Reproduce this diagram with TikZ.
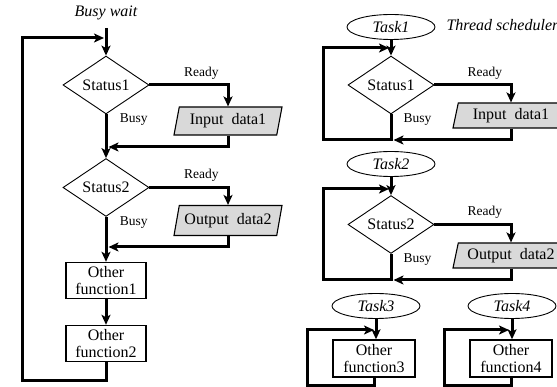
\documentclass[tikz,border=0pt]{standalone}
\usepackage{fontspec}
\setmainfont{Liberation Serif}
\usetikzlibrary{shapes.geometric,arrows.meta}
\definecolor{iogray}{RGB}{217,217,217}
\tikzset{
  decision/.style={diamond,draw,line width=0.9pt,minimum width=86pt,minimum height=50pt,inner sep=0pt,font=\fontsize{16}{17}\selectfont},
  iobox/.style={trapezium,trapezium left angle=70,trapezium right angle=110,trapezium stretches body,draw,line width=1.1pt,fill=iogray,inner sep=0pt,minimum width=108pt,minimum height=28pt,font=\fontsize{16}{17}\selectfont},
  funcbox/.style={rectangle,draw,line width=1.4pt,minimum width=80pt,minimum height=36pt,inner sep=0pt,align=center,font=\fontsize{16}{17}\selectfont},
  task/.style={ellipse,draw,line width=0.9pt,minimum width=88pt,minimum height=25pt,inner sep=0pt,font=\fontsize{16}{17}\selectfont\itshape},
  title/.style={font=\fontsize{16}{17}\selectfont\itshape},
  lbl/.style={font=\fontsize{13.5}{15}\selectfont},
  flow/.style={line width=3pt,-{Stealth[length=10pt,width=9pt,inset=2.5pt]}}
}
\begin{document}
\begin{tikzpicture}[x=1pt,y=-1pt]
  \useasboundingbox (0,0) rectangle (557,387);
  \clip (0,0) rectangle (557,387);

  % busy wait
  \node[title] (bw) at (106,13) {Busy wait};
  \node[decision] (s1) at (106,85) {Status1};
  \node[iobox] (in1) at (228,121) {Input~~data1};
  \node[decision] (s2) at (106,187.5) {Status2};
  \node[iobox,minimum height=30pt] (out2) at (228,220.5) {Output~~data2};
  \node[funcbox] (f1) at (106,280.5) {Other\\function1};
  \node[funcbox] (f2) at (106,343.5) {Other\\function2};
  \coordinate (t0) at (106,28);
  \coordinate (j0) at (104,38);
  \coordinate (j1) at (108.5,147);
  \coordinate (j2) at (108.5,247);
  \coordinate (lt) at (22,38);
  \coordinate (lb) at (22,380);

  \draw[flow] (t0) -- (s1.north);
  \draw[flow] (s1.east) -| node[lbl,pos=0.33,above=1pt]{Ready} (in1.north);
  \draw[flow] (s1.south) -- node[lbl,pos=0.12,right=9pt]{Busy} (s2.north);
  \draw[flow] (in1.south) |- (j1);
  \draw[flow] (s2.east) -| node[lbl,pos=0.33,above=1pt]{Ready} (out2.north);
  \draw[flow] (s2.south) -- node[lbl,pos=0.12,right=9pt]{Busy} (f1.north);
  \draw[flow] (out2.south) |- (j2);
  \draw[flow] (f1.south) -- (f2.north);
  \draw[flow] (f2.south) |- (lb) -- (lt) -- (j0);

  % thread scheduler
  \node[task] (k1) at (391,27) {Task1};
  \node[title,anchor=west] (ts) at (443,25) {Thread scheduler};
  \node[decision] (r1) at (391,85) {Status1};
  \node[iobox,minimum width=116pt,minimum height=25pt] (rin1) at (511,115.5) {Input~~data1};
  \coordinate (rt1) at (323,48);
  \coordinate (rb1) at (323,140);
  \coordinate (rj0) at (389,48);
  \coordinate (rj1) at (393.5,140);

  \draw[flow] (k1.south) -- (r1.north);
  \draw[flow] (r1.east) -| node[lbl,pos=0.33,above=1pt]{Ready} (rin1.north);
  \path (r1.south) -- node[lbl,pos=0.2,right=9pt]{Busy} (rb1 -| r1.south);
  \draw[flow] (rin1.south) |- (rj1);
  \draw[flow] (r1.south) |- (rb1) -- (rt1) -- (rj0);

  \node[task] (k2) at (391,164) {Task2};
  \node[decision] (r2) at (391,224.5) {Status2};
  \node[iobox,minimum width=116pt,minimum height=25pt] (rout2) at (511,255.5) {Output~~data2};
  \coordinate (rt2) at (323,189);
  \coordinate (rb2) at (323,280);
  \coordinate (rj20) at (389,189);
  \coordinate (rj2) at (393.5,280);

  \draw[flow] (k2.south) -- (r2.north);
  \draw[flow] (r2.east) -| node[lbl,pos=0.33,above=1pt]{Ready} (rout2.north);
  \path (r2.south) -- node[lbl,pos=0.2,right=9pt]{Busy} (rb2 -| r2.south);
  \draw[flow] (rout2.south) |- (rj2);
  \draw[flow] (r2.south) |- (rb2) -- (rt2) -- (rj20);

  \node[task] (k3) at (376,306) {Task3};
  \node[funcbox,minimum width=82pt,minimum height=37pt] (f3) at (374,358.5) {Other\\function3};
  \coordinate (rt3) at (307,330);
  \coordinate (rb3) at (307,385);
  \coordinate (rj3) at (374,330);
  \draw[flow] (k3.south) -- (f3.north -| k3.south);
  \draw[flow] (f3.south) |- (rb3) -- (rt3) -- (rj3);

  \node[task] (k4) at (512,306) {Task4};
  \node[funcbox,minimum width=82pt,minimum height=37pt] (f4) at (511,358.5) {Other\\function4};
  \coordinate (rt4) at (444,330);
  \coordinate (rb4) at (444,385);
  \coordinate (rj4) at (509,330);
  \draw[flow] (k4.south) -- (f4.north -| k4.south);
  \draw[flow] (f4.south) |- (rb4) -- (rt4) -- (rj4);
\end{tikzpicture}
\end{document}
